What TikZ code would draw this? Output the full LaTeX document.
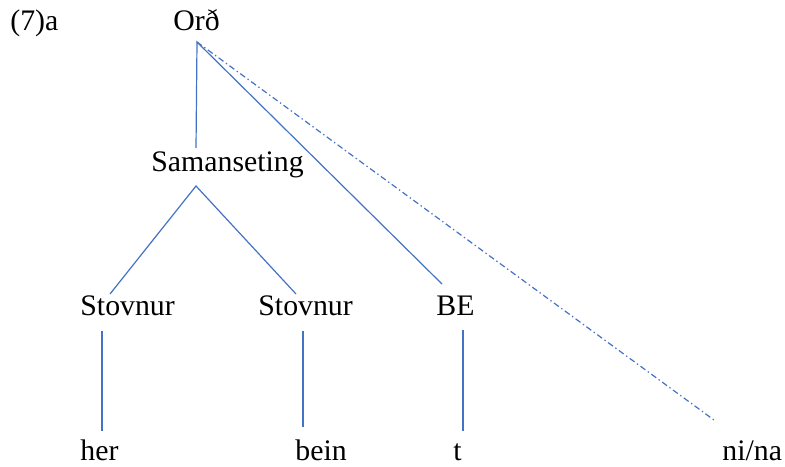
\documentclass[tikz,border=0pt]{standalone}
\usepackage{fontspec}
\setmainfont{Liberation Serif}
\definecolor{TreeBlue}{RGB}{68, 114, 196}
\usetikzlibrary{positioning,calc}

\begin{document}
\begin{tikzpicture}[x=0.5pt, y=-0.5pt,
    lbl/.style={anchor=base west, inner sep=0pt, font=\fontsize{14.9}{18}\selectfont},
    branch/.style={draw=TreeBlue, line width=0.6pt},
    affix/.style={branch, dash pattern=on 3pt off 1.5pt on 0.7pt off 1.5pt}]
  \useasboundingbox (0,0) rectangle (785,466);
  % labels
  \node[lbl] (ex) at (10,30) {(7)a};
  \node[lbl] (ord) at (173,30) {Orð};
  \node[lbl] (saman) at (151,171) {Samanseting};
  \foreach \name/\txt/\xpos in {stovA/Stovnur/80, stovB/Stovnur/258, be/BE/436} {
    \node[lbl] (\name) at (\xpos,315) {\txt};
  }
  \foreach \name/\txt/\xpos in {her/her/80, bein/bein/295, t/t/453, nina/ni\slash na/722} {
    \node[lbl] (\name) at (\xpos,460) {\txt};
  }
  % line ends
  \coordinate (ordtop) at (197,42);
  \coordinate (samantop) at (196,148);
  \coordinate (samanfoot) at (196,186);
  \coordinate (stovAtop) at (110,294);
  \coordinate (stovBtop) at (296,294);
  \coordinate (betop) at (442,284);
  \coordinate (ninatop) at (714,420);
  \coordinate (stovAfoot) at (102,331);
  \coordinate (stovBfoot) at (303,331);
  \coordinate (befoot) at (463,330);
  \coordinate (hertop) at (102,431);
  \coordinate (beintop) at (303,427);
  \coordinate (ttop) at (463,431);
  % branches
  \draw[branch] (samantop) -- (ordtop) -- (betop);
  \draw[affix] (ordtop) -- (ninatop);
  \draw[branch] (stovAtop) -- (samanfoot) -- (stovBtop);
  \draw[branch] (stovAfoot) -- (hertop);
  \draw[branch] (stovBfoot) -- (beintop);
  \draw[branch] (befoot) -- (ttop);
\end{tikzpicture}
\end{document}
